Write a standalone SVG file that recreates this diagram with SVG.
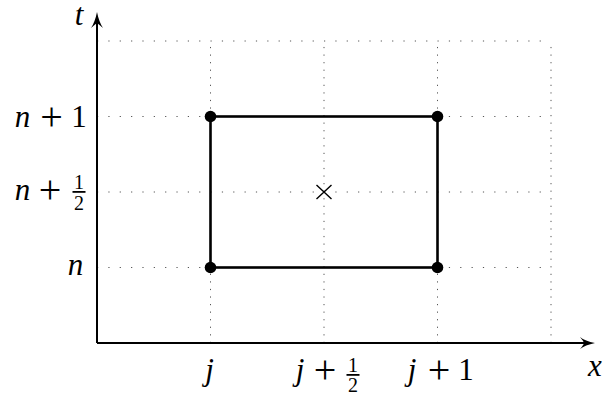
<svg xmlns="http://www.w3.org/2000/svg" width="603" height="400" viewBox="0 0 603 400">
<style>
.gh{stroke:#555;stroke-width:1;stroke-dasharray:1.2 10.15;fill:none}
.gv{stroke:#555;stroke-width:1;stroke-dasharray:1.2 6.36;fill:none}
.axis{stroke:#000;stroke-width:2;fill:none}
.rect{stroke:#000;stroke-width:2.6;fill:none}
.pt{fill:#000}
.cross{stroke:#000;stroke-width:1.4}
.v{font-style:italic;font-size:31px}
.d{font-size:31px}
.p{font-size:40px}
.f{font-size:20px}
.bar{fill:#000}
</style>
<g id="grid">
<path class="gh" d="M97,41H551M97,116.5H551M97,192H551M97,267.5H551"/>
<path class="gv" d="M210.5,343V41M324,343V41M437.5,343V41M551,343V41"/>
</g>
<g id="connectors">
<path class="axis" d="M97,343V20"/>
<path class="axis" d="M97,343H588"/>
<path class="pt" d="M97,12Q99,22 103,28Q99,24.5 97,23Q95,24.5 91,28Q95,22 97,12Z"/>
<path class="pt" d="M595,343Q585,345 580,349Q583.5,345 584,343Q583.5,341 580,337Q585,341 595,343Z"/>
</g>
<g id="cell">
<rect class="rect" x="210.5" y="116.5" width="227" height="151"/>
</g>
<g id="points">
<circle class="pt" cx="210.5" cy="116.5" r="5.8"/>
<circle class="pt" cx="437.5" cy="116.5" r="5.8"/>
<circle class="pt" cx="210.5" cy="267.5" r="5.8"/>
<circle class="pt" cx="437.5" cy="267.5" r="5.8"/>
</g>
<g id="center">
<path class="cross" d="M316.5,185L331.5,199M331.5,185L316.5,199"/>
</g>
<g id="labels" font-family="Liberation Serif, Times New Roman, serif" fill="#000" text-anchor="middle">
<g id="label-t"><text class="v" x="79" y="25">t</text></g>
<g id="label-x"><text class="v" x="595" y="376">x</text></g>
<g id="label-n1">
<text class="v" x="22.5" y="127">n</text>
<text class="p" x="51.5" y="129.5">+</text>
<text class="d" x="79" y="127">1</text>
</g>
<g id="label-nhalf">
<text class="v" x="22.5" y="200">n</text>
<text class="p" x="50" y="202.5">+</text>
<text class="f" x="79" y="189">1</text>
<rect class="bar" x="72.5" y="191" width="13" height="1.8"/>
<text class="f" x="79" y="209.5">2</text>
</g>
<g id="label-n">
<text class="v" x="75.5" y="275">n</text>
</g>
<g id="label-j">
<text class="v" x="209.5" y="380">j</text>
</g>
<g id="label-jhalf">
<text class="v" x="300" y="380">j</text>
<text class="p" x="325" y="382.5">+</text>
<text class="f" x="353" y="372">1</text>
<rect class="bar" x="346.5" y="374" width="13" height="1.8"/>
<text class="f" x="353" y="392">2</text>
</g>
<g id="label-j1">
<text class="v" x="412" y="380">j</text>
<text class="p" x="439" y="382.5">+</text>
<text class="d" x="466" y="380">1</text>
</g>
</g>
</svg>
